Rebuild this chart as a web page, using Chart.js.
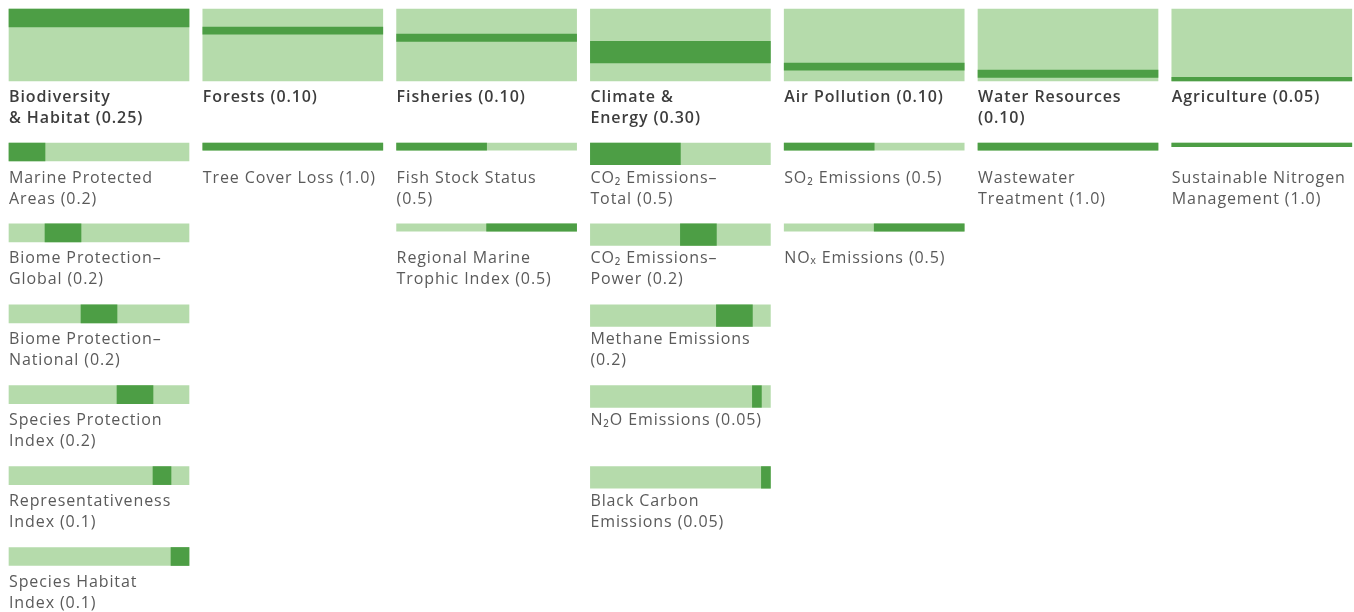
<!DOCTYPE html>
<html>
<head>
<meta charset="utf-8">
<script src="https://cdn.jsdelivr.net/npm/chart.js@4"></script>
<style>
  html, body { margin: 0; padding: 0; background: #ffffff; }
  #wrap { width: 1354px; height: 612px; position: relative; }
</style>
</head>
<body>
<div id="wrap"><canvas id="weightsChart"></canvas></div>
<script>
// categories and their weights (top boxes)
const categoryLabels = [
  ["Biodiversity", "& Habitat (0.25)"],
  ["Forests (0.10)"],
  ["Fisheries (0.10)"],
  ["Climate &", "Energy (0.30)"],
  ["Air Pollution (0.10)"],
  ["Water Resources", "(0.10)"],
  ["Agriculture (0.05)"],
];
const categoryWeights = [0.25, 0.1, 0.1, 0.3, 0.1, 0.1, 0.05];

// indicators inside each category
const indicatorLabels = [
  [
    ["Marine Protected", "Areas (0.2)"],
    ["Biome Protection\u2013", "Global (0.2)"],
    ["Biome Protection\u2013", "National (0.2)"],
    ["Species Protection", "Index (0.2)"],
    ["Representativeness", "Index (0.1)"],
    ["Species Habitat", "Index (0.1)"],
  ],
  [["Tree Cover Loss (1.0)"]],
  [
    ["Fish Stock Status", "(0.5)"],
    ["Regional Marine", "Trophic Index (0.5)"],
  ],
  [
    ["CO\u2082 Emissions\u2013", "Total (0.5)"],
    ["CO\u2082 Emissions\u2013", "Power (0.2)"],
    ["Methane Emissions", "(0.2)"],
    ["N\u2082O Emissions (0.05)"],
    ["Black Carbon", "Emissions (0.05)"],
  ],
  [["SO\u2082 Emissions (0.5)"], ["NO\u2093 Emissions (0.5)"]],
  [["Wastewater", "Treatment (1.0)"]],
  [["Sustainable Nitrogen", "Management (1.0)"]],
];
const indicatorWeights = [
  [0.2, 0.2, 0.2, 0.2, 0.1, 0.1],
  [1.0],
  [0.5, 0.5],
  [0.5, 0.2, 0.2, 0.05, 0.05],
  [0.5, 0.5],
  [1.0],
  [1.0],
];

// layout (pixels)
const W = 1354, H = 612;
const COL_X0 = 9, COL_PITCH = 193.8, COL_W = 180;
const BOX_TOP = 9, BOX_H = 72;
const ROW_TOP = 143, ROW_PITCH = 80.9;
const LIGHT = "#b5dbab";
const DARK = "#4d9e45";

const colLeft = (c) => COL_X0 + c * COL_PITCH;

const datasets = [];

// light background of the top boxes
datasets.push({
  data: categoryWeights.map((w, c) => ({ x: [colLeft(c), colLeft(c) + COL_W], y: BOX_TOP + BOX_H / 2 })),
  backgroundColor: LIGHT,
  barThickness: BOX_H,
  order: 2,
});

let catCum = 0;
categoryWeights.forEach((w, c) => {
  const left = colLeft(c);
  const th = w * BOX_H;
  const light = [];
  const dark = [{ x: [left, left + COL_W], y: BOX_TOP + (catCum + w / 2) * BOX_H }];
  let cum = 0;
  indicatorWeights[c].forEach((iw, k) => {
    const y = ROW_TOP + k * ROW_PITCH + th / 2;
    light.push({ x: [left, left + COL_W], y });
    dark.push({ x: [left + cum * COL_W, left + (cum + iw) * COL_W], y });
    cum += iw;
  });
  catCum += w;
  datasets.push({ data: light, backgroundColor: LIGHT, barThickness: th, order: 1 });
  datasets.push({ data: dark, backgroundColor: DARK, barThickness: th, order: 0 });
});

const labelPlugin = {
  id: "labels",
  afterDatasetsDraw(chart) {
    const { ctx, scales } = chart;
    ctx.save();
    ctx.textAlign = "left";
    ctx.textBaseline = "middle";
    ctx.letterSpacing = "0.9px";
    categoryLabels.forEach((lines, c) => {
      const x = scales.x.getPixelForValue(colLeft(c));
      ctx.font = "600 16px 'Open Sans', sans-serif";
      ctx.fillStyle = "#3d3d3d";
      lines.forEach((t, i) => {
        ctx.fillText(t, x, scales.y.getPixelForValue(BOX_TOP + BOX_H + 16 + i * 21));
      });
      ctx.font = "400 16px 'Open Sans', sans-serif";
      ctx.fillStyle = "#5a5a5a";
      indicatorLabels[c].forEach((ls, k) => {
        ls.forEach((t, i) => {
          ctx.fillText(t, x, scales.y.getPixelForValue(ROW_TOP + k * ROW_PITCH + 35 + i * 21));
        });
      });
    });
    ctx.restore();
  },
};

new Chart(document.getElementById("weightsChart"), {
  type: "bar",
  data: { datasets },
  options: {
    indexAxis: "y",
    responsive: true,
    maintainAspectRatio: false,
    animation: false,
    layout: { padding: 0 },
    datasets: { bar: { grouped: false, borderWidth: 0, borderSkipped: false } },
    scales: {
      x: { type: "linear", min: 0, max: W, display: false, offset: false },
      y: { type: "linear", min: 0, max: H, reverse: true, display: false, offset: false },
    },
    plugins: { legend: { display: false }, tooltip: { enabled: false } },
  },
  plugins: [labelPlugin],
});
</script>
</body>
</html>
